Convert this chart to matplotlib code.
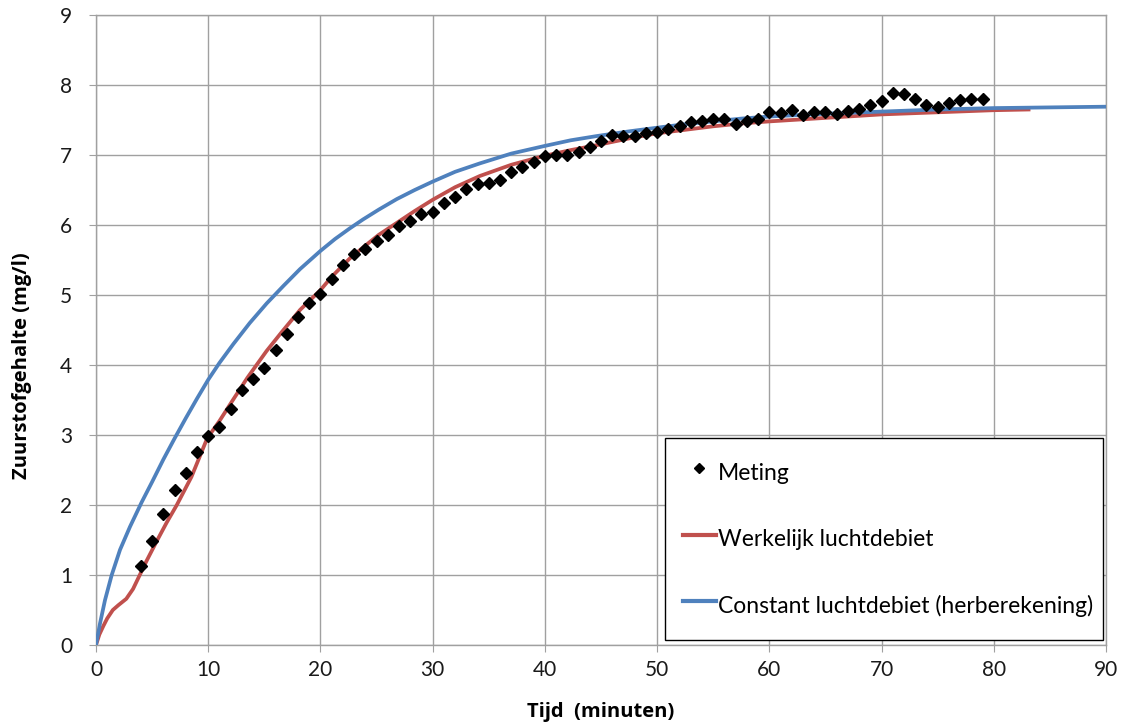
import matplotlib
matplotlib.use("Agg")
import matplotlib.pyplot as plt
from matplotlib.lines import Line2D

plt.rcParams['font.family'] = ['Lato', 'DejaVu Sans']

# Measurements (Meting)
meting_t = list(range(4, 80))
meting_v = [1.13, 1.49, 1.87, 2.21, 2.46, 2.76, 2.99, 3.12, 3.37, 3.65,
            3.80, 3.96, 4.22, 4.45, 4.69, 4.89, 5.01, 5.23, 5.43, 5.58,
            5.66, 5.77, 5.86, 5.98, 6.06, 6.16, 6.19, 6.31, 6.40, 6.51,
            6.58, 6.60, 6.64, 6.76, 6.83, 6.90, 6.98, 7.00, 7.00, 7.04,
            7.11, 7.20, 7.28, 7.27, 7.27, 7.31, 7.33, 7.37, 7.41, 7.47,
            7.48, 7.51, 7.51, 7.45, 7.49, 7.52, 7.62, 7.60, 7.64, 7.57,
            7.61, 7.61, 7.59, 7.63, 7.66, 7.71, 7.77, 7.89, 7.87, 7.80,
            7.72, 7.69, 7.74, 7.79, 7.80, 7.80]

# Werkelijk luchtdebiet (red curve)
werk_t = [0, 0.3, 0.65, 1.0, 1.5, 2.0, 2.7, 3.3, 3.9, 4.5, 5.4, 6.3, 7.2,
          8.5, 9.9, 11.0, 12.2, 13.5, 15.2, 16.6, 18.2, 20.0, 21.0, 22.6,
          23.8, 25.2, 26.8, 28.4, 30.0, 32.0, 34.2, 37.0, 40.0, 42.3, 44.6,
          47.6, 50.0, 52.5, 55.0, 57.5, 60.0, 65.0, 70.0, 75.0, 80.0, 83.1]
werk_v = [0, 0.15, 0.27, 0.38, 0.50, 0.57, 0.66, 0.80, 1.00, 1.20, 1.48,
          1.75, 2.00, 2.40, 2.95, 3.20, 3.50, 3.82, 4.20, 4.48, 4.79, 5.07,
          5.26, 5.52, 5.68, 5.86, 6.03, 6.20, 6.36, 6.54, 6.70, 6.86, 6.99,
          7.07, 7.14, 7.24, 7.31, 7.36, 7.41, 7.45, 7.48, 7.53, 7.58, 7.61,
          7.64, 7.65]

# Constant luchtdebiet (herberekening) (blue curve)
const_t = [0, 0.36, 0.8, 1.4, 2.14, 3.03, 4.07, 5.0, 6.0, 7.0, 8.0, 9.0,
           10.0, 11.0, 12.24, 13.7, 15.21, 16.7, 18.18, 20.0, 21.3, 22.6,
           23.8, 25.2, 26.8, 28.4, 30.0, 32.0, 34.2, 37.0, 40.0, 42.3, 44.6,
           47.6, 50.0, 52.5, 55.0, 57.5, 60.0, 65.0, 70.0, 75.0, 80.0, 85.0,
           90.0]
const_v = [0, 0.31, 0.64, 1.00, 1.36, 1.69, 2.04, 2.33, 2.65, 2.95, 3.24,
           3.52, 3.79, 4.03, 4.30, 4.60, 4.88, 5.13, 5.37, 5.63, 5.80, 5.95,
           6.08, 6.22, 6.37, 6.50, 6.62, 6.76, 6.88, 7.02, 7.13, 7.21, 7.27,
           7.34, 7.39, 7.44, 7.48, 7.52, 7.55, 7.59, 7.62, 7.65, 7.67, 7.68,
           7.69]

x_ticks = list(range(0, 91, 10))
y_ticks = list(range(0, 10))

fig = plt.figure(figsize=(11.23, 7.24), dpi=100)
ax = fig.add_axes([96 / 1123, 1 - 645 / 724, 1010 / 1123, 630 / 724])

red = '#C0504D'
blue = '#4F81BD'
grid_c = '#A0A0A0'

ax.plot(werk_t, werk_v, color=red, lw=2.7, solid_joinstyle='round', zorder=3)
ax.plot(const_t, const_v, color=blue, lw=2.7, solid_joinstyle='round', zorder=3)
ax.plot(meting_t, meting_v, linestyle='none', marker='D', markersize=6.3,
        color='black', zorder=4)

ax.set_xlim(0, 90)
ax.set_ylim(0, 9)
ax.set_xticks(x_ticks)
ax.set_yticks(y_ticks)
ax.grid(True, color=grid_c, lw=1.0)
ax.set_axisbelow(True)
for s in ax.spines.values():
    s.set_color(grid_c)
    s.set_linewidth(1.0)
ax.tick_params(axis='both', direction='out', length=5, color=grid_c,
               labelsize=15, labelcolor='#1a1a1a')
ax.tick_params(axis='y', pad=12)
ax.tick_params(axis='x', pad=6)

ax.set_xlabel('Tijd  (minuten)', fontsize=14.5, fontweight='bold', labelpad=16,
              family=['Open Sans', 'DejaVu Sans'])
ax.set_ylabel('Zuurstofgehalte (mg/l)', fontsize=14.5, fontweight='bold',
              family=['Open Sans', 'DejaVu Sans'])
ax.yaxis.set_label_coords(-0.0634, (645 - 365.5) / 630)

handles = [
    Line2D([], [], linestyle='none', marker='D', markersize=5.5, color='black'),
    Line2D([], [], color=red, lw=3),
    Line2D([], [], color=blue, lw=3),
]
labels = ['Meting', 'Werkelijk luchtdebiet',
          'Constant luchtdebiet (herberekening)']
leg = ax.legend(handles, labels, loc='lower left',
                bbox_to_anchor=(569 / 1010, 5 / 630, 438 / 1010, 200 / 630),
                mode='expand', borderaxespad=0, fontsize=16.5,
                labelspacing=1.47, handlelength=1.45, handletextpad=0.08,
                handleheight=1.83, borderpad=0.78, fancybox=False,
                edgecolor='black', framealpha=1)
leg.get_frame().set_linewidth(1.0)

fig.savefig('out.png', dpi=100)
